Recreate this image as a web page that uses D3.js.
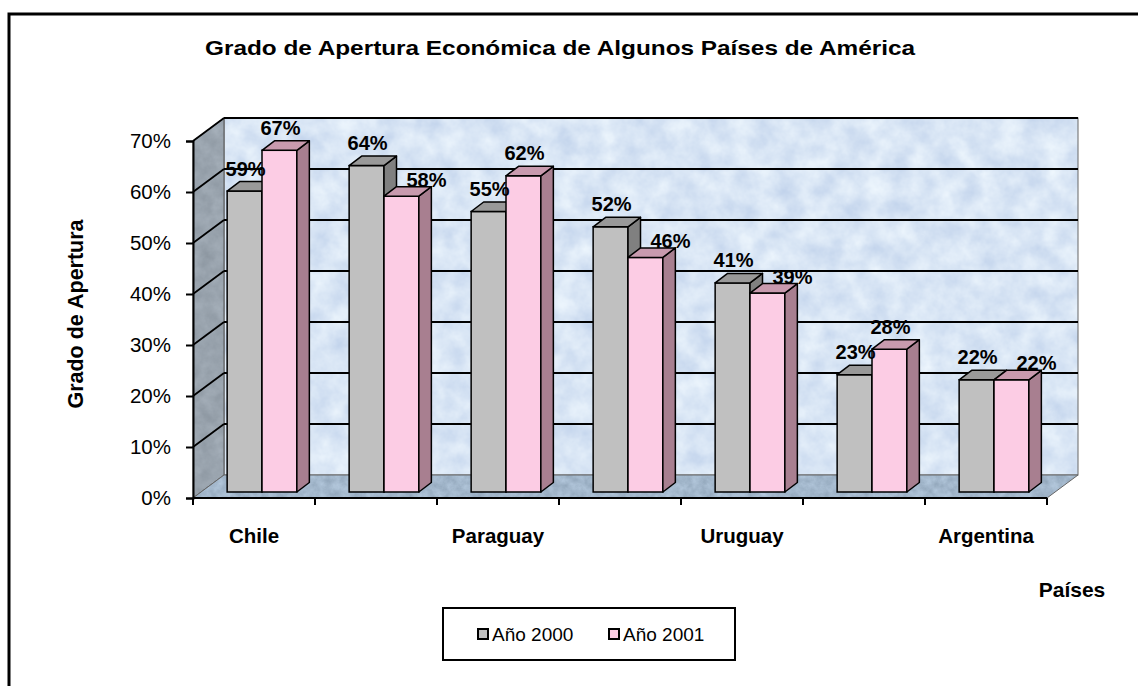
<!DOCTYPE html>
<html>
<head>
<meta charset="utf-8">
<script src="https://cdn.jsdelivr.net/npm/d3@7"></script>
<style>
  body { margin: 0; background: #fff; }
  svg { display: block; font-family: "Liberation Sans", Arial, sans-serif; }
</style>
</head>
<body>
<div id="chart"></div>
<script>
// Data
const tickLabels = ["Chile", "", "Paraguay", "", "Uruguay", "", "Argentina"];
const seriesNames = ["Año 2000", "Año 2001"];
const values2000 = [59, 64, 55, 52, 41, 23, 22];
const values2001 = [67, 58, 62, 46, 39, 28, 22];
const yTicks = [0, 10, 20, 30, 40, 50, 60, 70];

const width = 1138, height = 686;

const svg = d3.select("#chart").append("svg")
    .attr("width", width)
    .attr("height", height);

const defs = svg.append("defs");

// marble-ish textures for the walls
function noiseFilter(id, freq, rows) {
    const f = defs.append("filter")
        .attr("id", id)
        .attr("color-interpolation-filters", "sRGB")
        .attr("x", 0).attr("y", 0).attr("width", 1).attr("height", 1);
    f.append("feTurbulence")
        .attr("type", "fractalNoise")
        .attr("baseFrequency", freq)
        .attr("numOctaves", 4)
        .attr("seed", 7)
        .attr("result", "n");
    f.append("feColorMatrix")
        .attr("in", "n")
        .attr("type", "matrix")
        .attr("values", rows)
        .attr("result", "c");
    f.append("feComposite")
        .attr("in", "c").attr("in2", "SourceGraphic")
        .attr("operator", "in");
}
noiseFilter("wallTex", 0.045,
    "0.2 0 0 0 0.75  0.16 0 0 0 0.82  0.08 0 0 0 0.92  0 0 0 0 1");
noiseFilter("floorTex", 0.12,
    "0.18 0 0 0 0.55  0.18 0 0 0 0.63  0.18 0 0 0 0.71  0 0 0 0 1");
noiseFilter("sideTex", 0.08,
    "0.12 0 0 0 0.54  0.12 0 0 0 0.58  0.12 0 0 0 0.62  0 0 0 0 1");

// Outer frame
svg.append("rect")
    .attr("x", 9).attr("y", 14)
    .attr("width", 1140).attr("height", 690)
    .attr("fill", "#fff")
    .attr("stroke", "#000")
    .attr("stroke-width", 3);

// Scales
const x = d3.scaleBand()
    .domain(d3.range(tickLabels.length))
    .range([193, 1047]);

const y = d3.scaleLinear()
    .domain([0, 70])
    .range([498, 141]);

// depth of the floor (3D offset)
const depth = { dx: 31, dy: -23 };
const barOffset = { dx: 8, dy: -6 };   // bars sit a little behind the front edge
const barDepth = { dx: 12.5, dy: -9.5 };

const sub = d3.scaleBand()
    .domain([0, 1])
    .range([0, x.bandwidth()])
    .paddingInner(0)
    .paddingOuter(0.75);

const x0 = x.range()[0], x1 = x.range()[1];
const yTop = y(70), yBot = y(0);

// Back wall
svg.append("rect")
    .attr("x", x0 + depth.dx).attr("y", yTop + depth.dy)
    .attr("width", x1 - x0).attr("height", yBot - yTop)
    .attr("fill", "#dce8f5")
    .attr("filter", "url(#wallTex)");
svg.append("rect")
    .attr("x", x0 + depth.dx).attr("y", yTop + depth.dy)
    .attr("width", x1 - x0).attr("height", yBot - yTop)
    .attr("fill", "none")
    .attr("stroke", "#666")
    .attr("stroke-width", 1);

// Left wall
const leftWall = `M${x0},${yTop}L${x0 + depth.dx},${yTop + depth.dy}L${x0 + depth.dx},${yBot + depth.dy}L${x0},${yBot}Z`;
svg.append("path")
    .attr("d", leftWall)
    .attr("fill", "#9ca6b0")
    .attr("filter", "url(#sideTex)");
svg.append("path")
    .attr("d", leftWall)
    .attr("fill", "none")
    .attr("stroke", "#555")
    .attr("stroke-width", 1);

// Floor
const floor = `M${x0},${yBot}L${x0 + depth.dx},${yBot + depth.dy}L${x1 + depth.dx},${yBot + depth.dy}L${x1},${yBot}Z`;
svg.append("path")
    .attr("d", floor)
    .attr("fill", "#a3b7ca")
    .attr("filter", "url(#floorTex)");
svg.append("path")
    .attr("d", floor)
    .attr("fill", "none")
    .attr("stroke", "#666")
    .attr("stroke-width", 1);

// Gridlines
const grid = svg.append("g");
yTicks.filter(t => t > 0).forEach(t => {
    grid.append("line")
        .attr("x1", x0 + depth.dx).attr("x2", x1 + depth.dx)
        .attr("y1", y(t) + depth.dy).attr("y2", y(t) + depth.dy)
        .attr("stroke", "#000").attr("stroke-width", 1.8);
    grid.append("line")
        .attr("x1", x0).attr("x2", x0 + depth.dx)
        .attr("y1", y(t)).attr("y2", y(t) + depth.dy)
        .attr("stroke", "#000").attr("stroke-width", 1.8);
});

// Bars
const colors = [
    { front: "#c0c0c0", top: "#999999", side: "#808080" },
    { front: "#fccce4", top: "#c89aae", side: "#a87f90" }
];

const rows = [];
tickLabels.forEach((c, i) => {
    const pair = [values2000[i], values2001[i]];
    pair.forEach((v, s) => rows.push({ i, s, v, other: pair[1 - s] }));
});

const bars = svg.append("g").selectAll("g")
    .data(rows)
    .join("g");

bars.each(function(d) {
    const g = d3.select(this);
    const c = colors[d.s];
    const left = x(d.i) + sub(d.s) + barOffset.dx;
    const right = left + sub.bandwidth();
    const top = y(d.v) + barOffset.dy;
    const bot = y(0) + barOffset.dy;
    const ddx = barDepth.dx, ddy = barDepth.dy;

    g.append("rect")
        .attr("x", left).attr("y", top)
        .attr("width", right - left).attr("height", bot - top)
        .attr("fill", c.front)
        .attr("stroke", "#000").attr("stroke-width", 1.5);
    g.append("path")
        .attr("d", `M${right},${top}L${right + ddx},${top + ddy}L${right + ddx},${bot + ddy}L${right},${bot}Z`)
        .attr("fill", c.side)
        .attr("stroke", "#000").attr("stroke-width", 1.5)
        .attr("stroke-linejoin", "round");
    g.append("path")
        .attr("d", `M${left},${top}L${left + ddx},${top + ddy}L${right + ddx},${top + ddy}L${right},${top}Z`)
        .attr("fill", c.top)
        .attr("stroke", "#000").attr("stroke-width", 1.5)
        .attr("stroke-linejoin", "round");
});

// Value labels (2001 label slides right when it is not above the 2000 bar)
const shifted = d => d.s === 1 && d.v <= d.other;
svg.append("g").selectAll("text")
    .data(rows)
    .join("text")
    .attr("x", d => x(d.i) + sub(d.s) + barOffset.dx + sub.bandwidth() / 2 + 1 + (shifted(d) ? 24 : 0))
    .attr("y", d => y(d.v) + barOffset.dy + barDepth.dy - 6 + (shifted(d) ? 6 : 0))
    .attr("text-anchor", "middle")
    .attr("font-size", 20)
    .attr("font-weight", "bold")
    .text(d => d.v + "%");

// Y axis
const yAxis = svg.append("g")
    .attr("transform", `translate(${x0},0)`)
    .call(d3.axisLeft(y).tickValues(yTicks).tickSize(7).tickPadding(15).tickFormat(d => d + "%"));
yAxis.select(".domain").attr("stroke", "#000").attr("stroke-width", 2);
yAxis.selectAll(".tick line").attr("stroke", "#000").attr("stroke-width", 2);
yAxis.selectAll("text")
    .attr("font-size", 20.5)
    .attr("font-family", "Liberation Sans, Arial, sans-serif")
    .attr("fill", "#000");

// X axis
const xAxis = svg.append("g")
    .attr("transform", `translate(0,${yBot})`);
xAxis.append("line")
    .attr("x1", x0).attr("x2", x1)
    .attr("stroke", "#000").attr("stroke-width", 2);
xAxis.selectAll(".xt")
    .data(d3.range(tickLabels.length + 1))
    .join("line")
    .attr("class", "xt")
    .attr("x1", i => i < tickLabels.length ? x(i) : x1)
    .attr("x2", i => i < tickLabels.length ? x(i) : x1)
    .attr("y1", 0).attr("y2", 7)
    .attr("stroke", "#000").attr("stroke-width", 2);
xAxis.selectAll(".xl")
    .data(d3.range(tickLabels.length))
    .join("text")
    .attr("class", "xl")
    .attr("x", i => x(i) + x.bandwidth() / 2)
    .attr("y", 45)
    .attr("text-anchor", "middle")
    .attr("font-size", 20.5)
    .attr("font-weight", "bold")
    .text(i => tickLabels[i]);

// Titles
svg.append("text")
    .attr("x", 560).attr("y", 55)
    .attr("text-anchor", "middle")
    .attr("font-size", 21)
    .attr("font-weight", "bold")
    .attr("textLength", 710)
    .attr("lengthAdjust", "spacingAndGlyphs")
    .text("Grado de Apertura Económica de Algunos Países de América");

svg.append("text")
    .attr("transform", "translate(83,314) rotate(-90)")
    .attr("text-anchor", "middle")
    .attr("font-size", 21.5)
    .attr("font-weight", "bold")
    .text("Grado de Apertura");

svg.append("text")
    .attr("x", 1072).attr("y", 597)
    .attr("text-anchor", "middle")
    .attr("font-size", 21)
    .attr("font-weight", "bold")
    .text("Países");

// Legend
const legend = svg.append("g");
legend.append("rect")
    .attr("x", 443).attr("y", 608)
    .attr("width", 292).attr("height", 52)
    .attr("fill", "#fff")
    .attr("stroke", "#000").attr("stroke-width", 2);
const legendX = [478, 609];
seriesNames.forEach((name, s) => {
    legend.append("rect")
        .attr("x", legendX[s]).attr("y", 629)
        .attr("width", 10).attr("height", 10)
        .attr("fill", colors[s].front)
        .attr("stroke", "#000").attr("stroke-width", 2);
    legend.append("text")
        .attr("x", legendX[s] + 14).attr("y", 641)
        .attr("font-size", 19)
        .text(name);
});
</script>
</body>
</html>
